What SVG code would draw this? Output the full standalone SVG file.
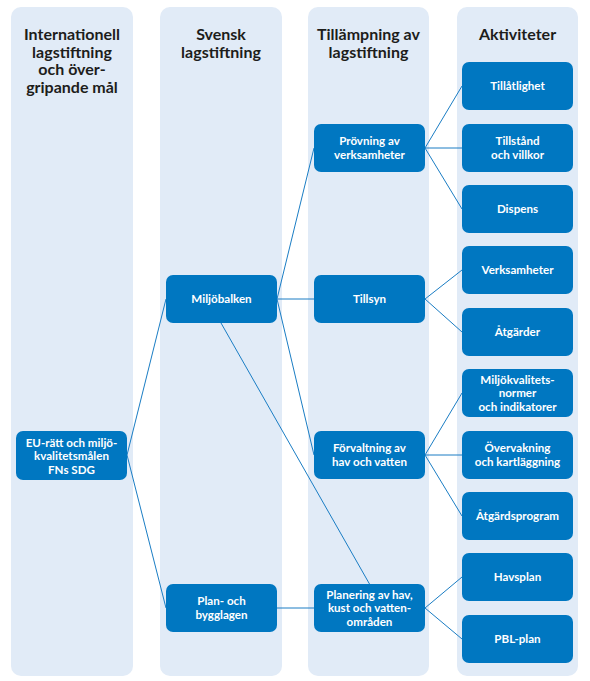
<svg xmlns="http://www.w3.org/2000/svg" width="590" height="681" viewBox="0 0 590 681">
<style>
.col{fill:#e1ebf7}
.node{fill:#0077c1}
.t{font-family:Lato,"Open Sans",sans-serif;font-weight:bold;font-size:16px;fill:#1d1d1b;text-anchor:middle}
.n{font-family:Lato,"Open Sans",sans-serif;font-weight:bold;font-size:11.6px;fill:#ffffff;text-anchor:middle}
.c{stroke:#1a7dc4;stroke-width:1;fill:none}
</style>
<rect width="590" height="681" fill="#ffffff"/>
<g id="columns">
<rect class="col" x="11" y="7" width="122" height="669" rx="10"/>
<rect class="col" x="160" y="7" width="122" height="669" rx="10"/>
<rect class="col" x="308" y="7" width="121" height="669" rx="10"/>
<rect class="col" x="457" y="7" width="121" height="669" rx="10"/>
<text class="t" x="72" y="40">Internationell</text>
<text class="t" x="72" y="57.5">lagstiftning</text>
<text class="t" x="72" y="75">och över-</text>
<text class="t" x="72" y="92.5">gripande mål</text>
<text class="t" x="221" y="40">Svensk</text>
<text class="t" x="221" y="57.5">lagstiftning</text>
<text class="t" x="368.5" y="40">Tillämpning av</text>
<text class="t" x="368.5" y="57.5">lagstiftning</text>
<text class="t" x="517.5" y="40">Aktiviteter</text>
</g>
<g id="connectors">
<line class="c" x1="127" y1="455" x2="166" y2="299"/>
<line class="c" x1="127" y1="455" x2="166" y2="608"/>
<line class="c" x1="277" y1="299" x2="314" y2="148"/>
<line class="c" x1="277" y1="299" x2="314" y2="299"/>
<line class="c" x1="277" y1="299" x2="314" y2="455"/>
<line class="c" x1="221" y1="323" x2="369.5" y2="584"/>
<line class="c" x1="277" y1="608" x2="314" y2="608"/>
<line class="c" x1="425" y1="148" x2="462" y2="86"/>
<line class="c" x1="425" y1="148" x2="462" y2="148"/>
<line class="c" x1="425" y1="148" x2="462" y2="209"/>
<line class="c" x1="425" y1="299" x2="462" y2="270"/>
<line class="c" x1="425" y1="299" x2="462" y2="332"/>
<line class="c" x1="425" y1="455" x2="462" y2="393"/>
<line class="c" x1="425" y1="455" x2="462" y2="455"/>
<line class="c" x1="425" y1="455" x2="462" y2="516"/>
<line class="c" x1="425" y1="608" x2="462" y2="577"/>
<line class="c" x1="425" y1="608" x2="462" y2="639"/>
</g>
<g id="eu">
<rect class="node" x="16" y="431" width="111" height="49" rx="7"/>
<text class="n" x="71.5" y="446.8">EU-rätt och miljö-</text>
<text class="n" x="71.5" y="460.3">kvalitetsmålen</text>
<text class="n" x="71.5" y="473.8">FNs SDG</text>
</g>
<g id="miljobalken">
<rect class="node" x="166" y="275" width="111" height="48" rx="7"/>
<text class="n" x="221.5" y="303.2">Miljöbalken</text>
</g>
<g id="pbl-lag">
<rect class="node" x="166" y="584" width="111" height="48" rx="7"/>
<text class="n" x="221.5" y="605.4">Plan- och</text>
<text class="n" x="221.5" y="618.9">bygglagen</text>
</g>
<g id="provning">
<rect class="node" x="314" y="124" width="111" height="48" rx="7"/>
<text class="n" x="369.5" y="145.4">Prövning av</text>
<text class="n" x="369.5" y="158.9">verksamheter</text>
</g>
<g id="tillsyn">
<rect class="node" x="314" y="275" width="111" height="48" rx="7"/>
<text class="n" x="369.5" y="303.2">Tillsyn</text>
</g>
<g id="forvaltning">
<rect class="node" x="314" y="431" width="111" height="48" rx="7"/>
<text class="n" x="369.5" y="452.4">Förvaltning av</text>
<text class="n" x="369.5" y="465.9">hav och vatten</text>
</g>
<g id="planering">
<rect class="node" x="314" y="584" width="111" height="48" rx="7"/>
<text class="n" x="369.5" y="598.7">Planering av hav,</text>
<text class="n" x="369.5" y="612.2">kust och vatten-</text>
<text class="n" x="369.5" y="625.7">områden</text>
</g>
<g id="tillatlighet">
<rect class="node" x="462" y="62" width="111" height="48" rx="7"/>
<text class="n" x="517.5" y="90.2">Tillåtlighet</text>
</g>
<g id="tillstand">
<rect class="node" x="462" y="124" width="111" height="48" rx="7"/>
<text class="n" x="517.5" y="145.4">Tillstånd</text>
<text class="n" x="517.5" y="158.9">och villkor</text>
</g>
<g id="dispens">
<rect class="node" x="462" y="185" width="111" height="48" rx="7"/>
<text class="n" x="517.5" y="213.2">Dispens</text>
</g>
<g id="verksamheter">
<rect class="node" x="462" y="246" width="111" height="48" rx="7"/>
<text class="n" x="517.5" y="274.2">Verksamheter</text>
</g>
<g id="atgarder">
<rect class="node" x="462" y="308" width="111" height="48" rx="7"/>
<text class="n" x="517.5" y="336.2">Åtgärder</text>
</g>
<g id="mkn">
<rect class="node" x="462" y="369" width="111" height="48" rx="7"/>
<text class="n" x="517.5" y="383.7">Miljökvalitets-</text>
<text class="n" x="517.5" y="397.2">normer</text>
<text class="n" x="517.5" y="410.7">och indikatorer</text>
</g>
<g id="overvakning">
<rect class="node" x="462" y="431" width="111" height="48" rx="7"/>
<text class="n" x="517.5" y="452.4">Övervakning</text>
<text class="n" x="517.5" y="465.9">och kartläggning</text>
</g>
<g id="atgardsprogram">
<rect class="node" x="462" y="492" width="111" height="48" rx="7"/>
<text class="n" x="517.5" y="520.2">Åtgärdsprogram</text>
</g>
<g id="havsplan">
<rect class="node" x="462" y="553" width="111" height="48" rx="7"/>
<text class="n" x="517.5" y="581.2">Havsplan</text>
</g>
<g id="pbl-plan">
<rect class="node" x="462" y="615" width="111" height="48" rx="7"/>
<text class="n" x="517.5" y="643.2">PBL-plan</text>
</g>
</svg>
